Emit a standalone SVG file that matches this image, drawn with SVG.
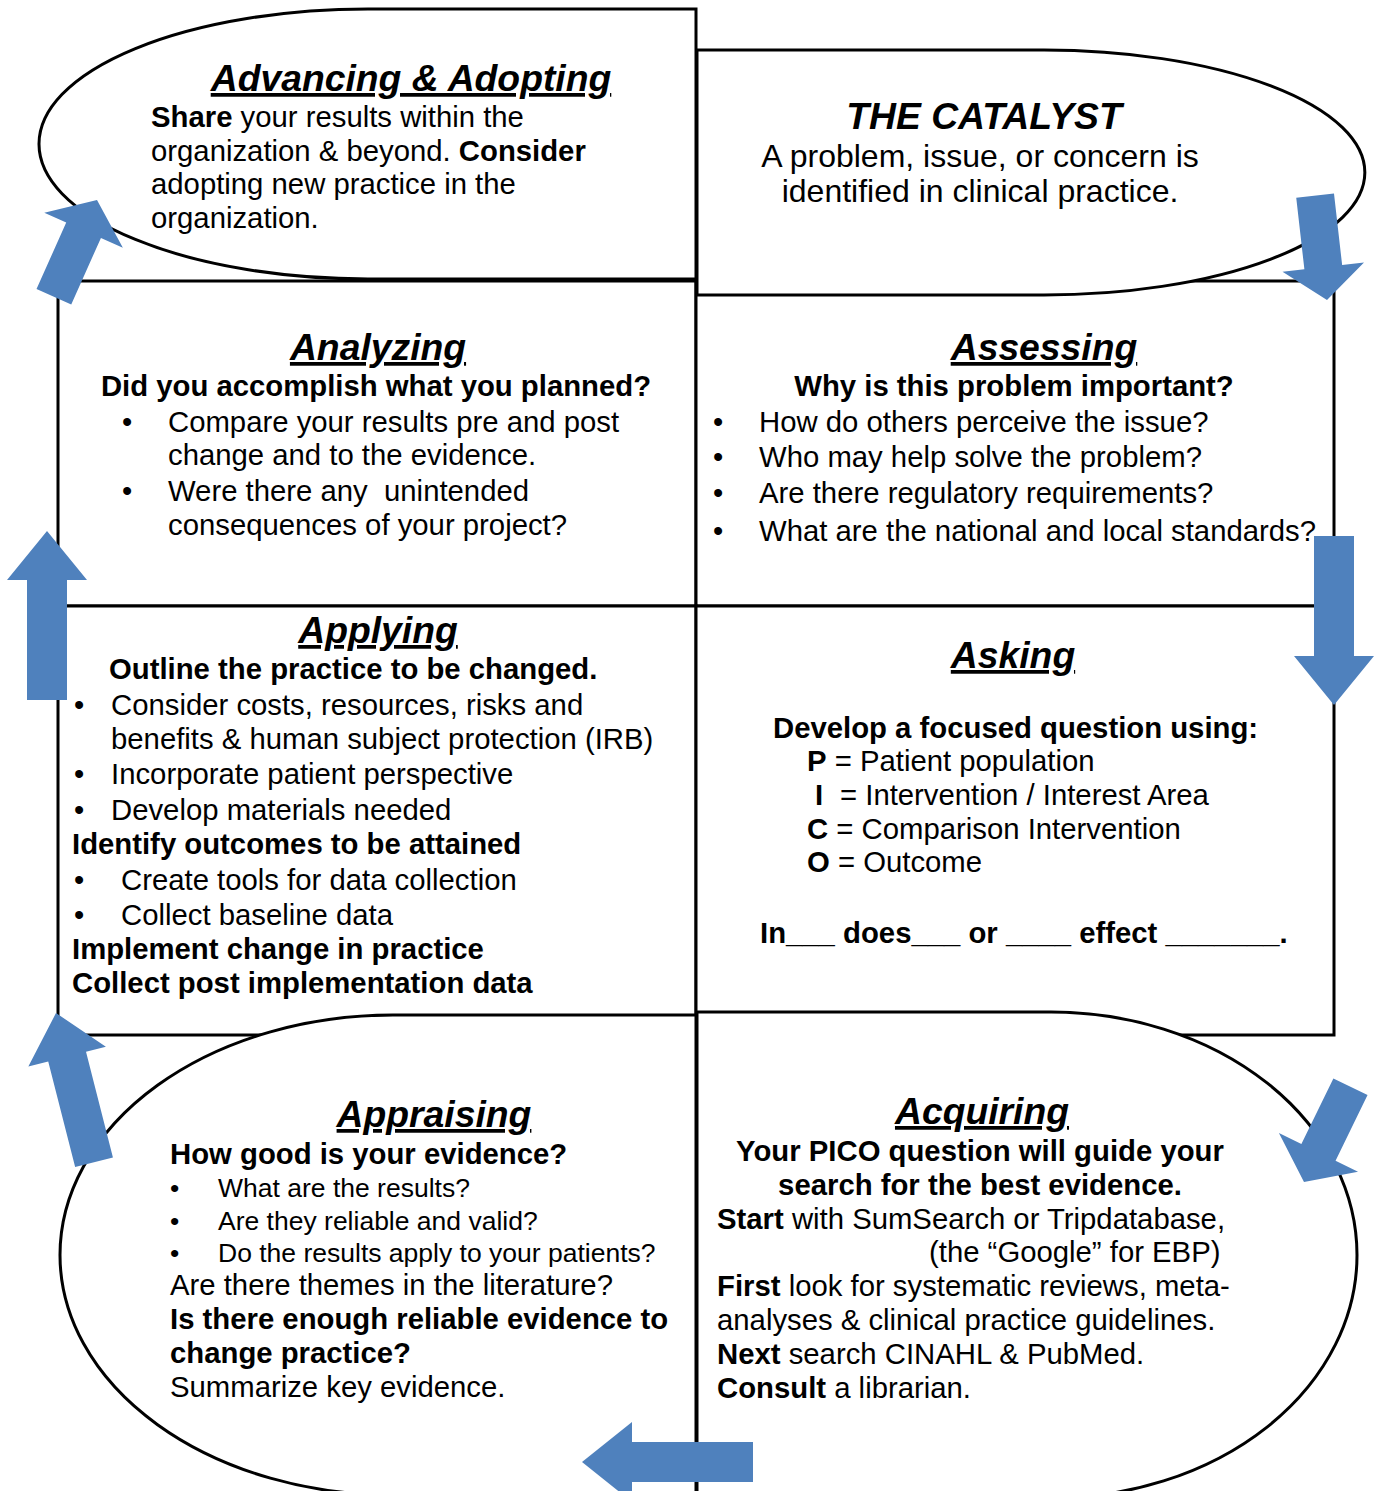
<svg xmlns="http://www.w3.org/2000/svg" width="1375" height="1491" viewBox="0 0 1375 1491">
<style>
text{font-family:"Liberation Sans",Arial,sans-serif;fill:#000;font-size:29.3px}
.ttl{font-size:37.3px;font-weight:bold;font-style:italic;text-decoration:underline}
.cat{font-size:37.3px;font-weight:bold;font-style:italic}
.sub{font-size:32px}
.sm{font-size:26.5px}
.b{font-weight:bold}
.box{fill:#fff;stroke:#000;stroke-width:3}
.arw{fill:#4f81bd}
</style>
<rect width="1375" height="1491" fill="#fff"/>
<g id="analyzing">
<rect class="box" x="58" y="281" width="638" height="325"/>
<text class="ttl" x="378" y="360" text-anchor="middle">Analyzing</text>
<text class="b" x="376" y="396" text-anchor="middle">Did you accomplish what you planned?</text>
<text x="122" y="432">•</text><text x="168" y="432">Compare your results pre and post</text>
<text x="168" y="465">change and to the evidence.</text>
<text x="122" y="501">•</text><text x="168" y="501" xml:space="preserve">Were there any  unintended</text>
<text x="168" y="535">consequences of your project?</text>
</g>
<g id="assessing">
<rect class="box" x="696" y="281" width="638" height="325"/>
<text class="ttl" x="1044" y="360" text-anchor="middle">Assessing</text>
<text class="b" x="1014" y="396" text-anchor="middle">Why is this problem important?</text>
<text x="713" y="432">•</text><text x="759" y="432">How do others perceive the issue?</text>
<text x="713" y="467">•</text><text x="759" y="467">Who may help solve the problem?</text>
<text x="713" y="503">•</text><text x="759" y="503">Are there regulatory requirements?</text>
<text x="713" y="541">•</text><text x="759" y="541">What are the national and local standards?</text>
</g>
<g id="applying">
<rect class="box" x="58" y="606" width="638" height="429"/>
<text class="ttl" x="378" y="643" text-anchor="middle">Applying</text>
<text class="b" x="109" y="679">Outline the practice to be changed.</text>
<text x="74" y="715">•</text><text x="111" y="715">Consider costs, resources, risks and</text>
<text x="111" y="749">benefits &amp; human subject protection (IRB)</text>
<text x="74" y="784">•</text><text x="111" y="784">Incorporate patient perspective</text>
<text x="74" y="820">•</text><text x="111" y="820">Develop materials needed</text>
<text class="b" x="72" y="854">Identify outcomes to be attained</text>
<text x="74" y="890">•</text><text x="121" y="890">Create tools for data collection</text>
<text x="74" y="925">•</text><text x="121" y="925">Collect baseline data</text>
<text class="b" x="72" y="959">Implement change in practice</text>
<text class="b" x="72" y="993">Collect post implementation data</text>
</g>
<g id="asking">
<rect class="box" x="696" y="606" width="638" height="429"/>
<text class="ttl" x="1013" y="668" text-anchor="middle">Asking</text>
<text class="b" x="773" y="738">Develop a focused question using:</text>
<text x="807" y="771"><tspan class="b">P</tspan> = Patient population</text>
<text x="815" y="805"><tspan class="b">I</tspan><tspan x="840">= Intervention / Interest Area</tspan></text>
<text x="807" y="839"><tspan class="b">C</tspan> = Comparison Intervention</text>
<text x="807" y="872"><tspan class="b">O</tspan> = Outcome</text>
<text class="b" x="760" y="943">In___ does___ or ____ effect _______.</text>
</g>
<g id="advancing">
<path class="box" d="M696,9 H368 A329,135 0 0 0 368,279 H696 Z"/>
<text class="ttl" x="411" y="91" text-anchor="middle">Advancing &amp; Adopting</text>
<text x="151" y="127"><tspan class="b">Share</tspan> your results within the</text>
<text x="151" y="161">organization &amp; beyond. <tspan class="b">Consider</tspan></text>
<text x="151" y="194">adopting new practice in the</text>
<text x="151" y="228">organization.</text>
</g>
<g id="catalyst">
<path class="box" d="M697,50 H1044 A321,122.5 0 0 1 1044,295 H697 Z"/>
<text class="cat" x="984" y="129" text-anchor="middle">THE CATALYST</text>
<text class="sub" x="980" y="167" text-anchor="middle">A problem, issue, or concern is</text>
<text class="sub" x="980" y="202" text-anchor="middle">identified in clinical practice.</text>
</g>
<g id="appraising">
<path class="box" d="M696,1015 H393 A333,240 0 0 0 393,1495 H696 Z"/>
<text class="ttl" x="434" y="1127" text-anchor="middle">Appraising</text>
<text class="b" x="170" y="1164">How good is your evidence?</text>
<text class="sm" x="170" y="1197">•</text><text class="sm" x="218" y="1197">What are the results?</text>
<text class="sm" x="170" y="1230">•</text><text class="sm" x="218" y="1230">Are they reliable and valid?</text>
<text class="sm" x="170" y="1262">•</text><text class="sm" x="218" y="1262">Do the results apply to your patients?</text>
<text x="170" y="1295">Are there themes in the literature?</text>
<text class="b" x="170" y="1329">Is there enough reliable evidence to</text>
<text class="b" x="170" y="1363">change practice?</text>
<text x="170" y="1397">Summarize key evidence.</text>
</g>
<g id="acquiring">
<path class="box" d="M697,1012 H1051 A306,243 0 0 1 1051,1498 H697 Z"/>
<text class="ttl" x="982" y="1124" text-anchor="middle">Acquiring</text>
<text class="b" x="980" y="1161" text-anchor="middle">Your PICO question will guide your</text>
<text class="b" x="980" y="1195" text-anchor="middle">search for the best evidence.</text>
<text x="717" y="1229"><tspan class="b">Start</tspan> with SumSearch or Tripdatabase,</text>
<text x="929" y="1262">(the “Google” for EBP)</text>
<text x="717" y="1296"><tspan class="b">First</tspan> look for systematic reviews, meta-</text>
<text x="717" y="1330">analyses &amp; clinical practice guidelines.</text>
<text x="717" y="1364"><tspan class="b">Next</tspan> search CINAHL &amp; PubMed.</text>
<text x="717" y="1398"><tspan class="b">Consult</tspan> a librarian.</text>
</g>
<g id="connectors">
<polygon class="arw" transform="translate(1327,300) rotate(173.5)" points="0,0 41,33 19,33 19,105 -19,105 -19,33 -41,33"/>
<polygon class="arw" transform="translate(1334,705) rotate(180)" points="0,0 40,49 20,49 20,169 -20,169 -20,49 -40,49"/>
<polygon class="arw" transform="translate(1304,1182) rotate(206)" points="0,0 44,33 19,33 19,106 -19,106 -19,33 -44,33"/>
<polygon class="arw" transform="translate(582,1462) rotate(-90)" points="0,0 40,50 20,50 20,171 -20,171 -20,50 -40,50"/>
<polygon class="arw" transform="translate(56,1013) rotate(-14.3)" points="0,0 40,45 19.5,45 19.5,154 -19.5,154 -19.5,45 -40,45"/>
<polygon class="arw" transform="translate(47,531)" points="0,0 40,49 20,49 20,169 -20,169 -20,49 -40,49"/>
<polygon class="arw" transform="translate(97,200) rotate(24)" points="0,0 43,33 19,33 19,106 -19,106 -19,33 -43,33"/>
</g>
</svg>
